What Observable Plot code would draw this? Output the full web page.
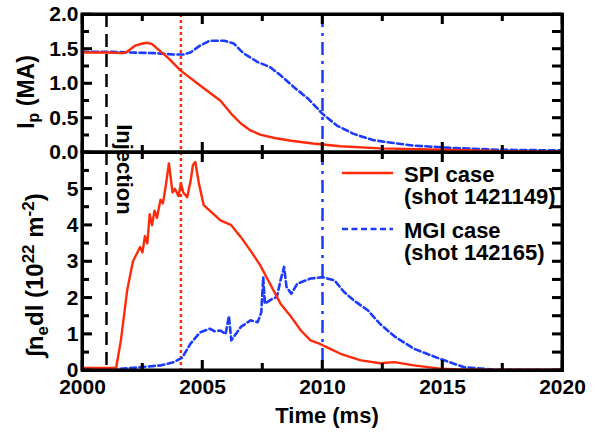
<!DOCTYPE html>
<html><head><meta charset="utf-8">
<script src="https://cdn.jsdelivr.net/npm/d3@7"></script>
<script src="https://cdn.jsdelivr.net/npm/@observablehq/plot@0.6"></script>
<style>
body{margin:0;background:#fff;}
#chart{position:relative;width:599px;height:434px;}
#chart svg{position:absolute;left:0;overflow:visible;background:transparent;}
</style></head><body><div id="chart"></div>
<script>
// ---- data ----
const spiIpTime = [2000, 2001, 2001.7, 2001.9, 2002.2, 2002.5, 2002.7, 2002.9, 2003.2, 2003.6, 2004.08, 2004.9, 2005.75, 2006.2, 2006.6, 2007.0, 2007.4, 2008.0, 2008.7, 2009.6, 2010.75, 2012.4, 2015, 2017.5, 2020];
const spiIp     = [1.45, 1.45, 1.44, 1.47, 1.55, 1.58, 1.59, 1.57, 1.48, 1.36, 1.19, 0.97, 0.75, 0.56, 0.42, 0.32, 0.26, 0.21, 0.17, 0.13, 0.09, 0.06, 0.04, 0.02, 0.01];
const mgiIpTime = [2000, 2001, 2002, 2003, 2003.8, 2004.2, 2004.5, 2004.9, 2005.3, 2005.9, 2006.3, 2006.7, 2007.3, 2007.8, 2008.25, 2008.8, 2009.4, 2010, 2010.6, 2011.3, 2012.1, 2013, 2013.8, 2015.2, 2017.3, 2020];
const mgiIp     = [1.46, 1.46, 1.45, 1.44, 1.42, 1.42, 1.45, 1.55, 1.62, 1.62, 1.58, 1.44, 1.31, 1.24, 1.12, 0.95, 0.78, 0.56, 0.39, 0.27, 0.18, 0.135, 0.10, 0.07, 0.04, 0.03];
const spiNeTime = [2000, 2001.4, 2001.6, 2001.86, 2002.1, 2002.25, 2002.4, 2002.5, 2002.6, 2002.7, 2002.8, 2002.9, 2003.0, 2003.1, 2003.25, 2003.35, 2003.45, 2003.6, 2003.75, 2003.85, 2004.0, 2004.1, 2004.2, 2004.36, 2004.5, 2004.6, 2004.7, 2004.85, 2005.05, 2005.3, 2005.75, 2006.2, 2006.6, 2007.0, 2007.4, 2007.8, 2008.25, 2008.7, 2009.1, 2009.5, 2009.9, 2010.3, 2010.75, 2011.6, 2012.4, 2013, 2013.8, 2014.9, 2016, 2020];
const spiNe     = [0.07, 0.07, 0.83, 2.2, 3.0, 3.2, 3.4, 3.25, 3.7, 3.5, 4.3, 4.0, 4.4, 4.2, 4.7, 4.6, 5.0, 5.7, 4.9, 5.0, 4.8, 5.15, 4.9, 4.77, 5.2, 5.65, 5.74, 5.15, 4.55, 4.4, 4.13, 4.0, 3.67, 3.3, 2.9, 2.4, 1.84, 1.47, 1.1, 0.83, 0.73, 0.6, 0.46, 0.28, 0.2, 0.23, 0.14, 0.05, 0.02, 0.02];
const mgiNeTime = [2000, 2001.5, 2002.4, 2003.25, 2003.8, 2004.15, 2004.5, 2004.9, 2005.3, 2005.5, 2005.75, 2005.96, 2006.1, 2006.2, 2006.6, 2007.0, 2007.3, 2007.45, 2007.53, 2007.6, 2007.9, 2008.1, 2008.25, 2008.4, 2008.5, 2008.7, 2008.95, 2009.5, 2010, 2010.5, 2010.9, 2011.3, 2011.9, 2012.4, 2013, 2013.8, 2014.9, 2015.9, 2017.3, 2020];
const mgiNe     = [0.03, 0.04, 0.09, 0.14, 0.23, 0.35, 0.74, 1.05, 1.15, 1.08, 1.1, 1.0, 1.5, 0.83, 1.2, 1.38, 1.33, 1.6, 2.57, 1.84, 1.97, 2.02, 2.48, 2.85, 2.3, 2.11, 2.39, 2.53, 2.57, 2.48, 2.16, 1.93, 1.65, 1.28, 0.94, 0.6, 0.32, 0.09, 0.02, 0.02];
const eventTimes = [2001, 2004.1, 2010];   // injection, SPI marker, MGI marker
const xTickLabels = [2000, 2005, 2010, 2015, 2020];
const xTicksAll = [2000, 2002.5, 2005, 2007.5, 2010, 2012.5, 2015, 2017.5, 2020];
const ipTickLabels = [0, 0.5, 1.0, 1.5, 2.0];
const ipTicksAll = [0, 0.25, 0.5, 0.75, 1.0, 1.25, 1.5, 1.75, 2.0];
const neTickLabels = [0, 1, 2, 3, 4, 5];
const neTicksAll = [0, 0.5, 1, 1.5, 2, 2.5, 3, 3.5, 4, 4.5, 5, 5.5, 6];
const legendLabels = [["SPI case", "(shot 1421149)"], ["MGI case", "(shot 142165)"]];

// ---- styling ----
const RED = "#ff2a0a", BLUE = "#1b3cff";
const FONT = "'Liberation Sans', Arial, Helvetica, sans-serif";
const W = 599, ML = 82, MR = 37, PW = W - ML - MR;
const X0 = 2000, X1 = 2020;
const eventStyles = [
  {stroke: "black", strokeDasharray: "13,7", strokeWidth: 2.5},
  {stroke: RED, strokeDasharray: "3,3", strokeWidth: 2.5},
  {stroke: BLUE, strokeDasharray: "13,6,3,6", strokeWidth: 2.5}
];
const pts = (t, v) => t.map((d, i) => ({t: d, v: v[i]}));

// inward tick marks on all four sides (lengths given in pixels, converted through the scale spans)
function tickMarks(yAll, yMajor, xAll, xMajor, yMax, PH) {
  const yMin = yAll.filter(d => !yMajor.includes(d));
  const xMin = xAll.filter(d => !xMajor.includes(d));
  const px = p => p * (X1 - X0) / PW, py = p => p * yMax / PH;
  const s = {stroke: "black", strokeWidth: 2.5};
  return [
    Plot.ruleY(yMajor, {y: d => d, x1: X0, x2: X0 + px(10), ...s}),
    Plot.ruleY(yMin, {y: d => d, x1: X0, x2: X0 + px(7), ...s}),
    Plot.ruleY(yAll, {y: d => d, x1: X1 - px(10), x2: X1, ...s}),
    Plot.ruleX(xMajor, {x: d => d, y1: 0, y2: py(10), ...s}),
    Plot.ruleX(xMin, {x: d => d, y1: 0, y2: py(7), ...s}),
    Plot.ruleX(xMajor, {x: d => d, y1: yMax - py(10), y2: yMax, ...s}),
    Plot.ruleX(xMin, {x: d => d, y1: yMax - py(7), y2: yMax, ...s})
  ];
}
const eventRules = () => eventTimes.map((t, i) => Plot.ruleX([t], eventStyles[i]));

const commonStyle = {fontFamily: FONT, fontSize: "21px", fontWeight: "bold", background: "transparent", overflow: "visible", color: "black"};

// ---- top panel: plasma current ----
const topH = 152, topMT = 14;
const topPlot = Plot.plot({
  width: W, height: topH, marginTop: topMT, marginBottom: 0, marginLeft: ML, marginRight: MR,
  style: commonStyle,
  x: {domain: [X0, X1], axis: null},
  y: {domain: [0, 2], axis: null},
  marks: [
    ...eventRules(),
    Plot.line(pts(mgiIpTime, mgiIp), {x: "t", y: "v", stroke: BLUE, strokeWidth: 2.6, strokeDasharray: "6,3.5"}),
    Plot.line(pts(spiIpTime, spiIp), {x: "t", y: "v", stroke: RED, strokeWidth: 2.4}),
    Plot.frame({stroke: "black", strokeWidth: 3}),
    ...tickMarks(ipTicksAll, ipTickLabels, xTicksAll, xTickLabels, 2, topH - topMT),
    Plot.axisY(ipTickLabels, {tickSize: 0, tickPadding: 4, tickFormat: d3.format(".1f"), label: null}),
    Plot.text(["Injection"], {x: 2001.72, y: 0.41, text: d => d, rotate: 90, textAnchor: "start", fontSize: 22, fontWeight: "bold"})
  ]
});

// ---- bottom panel: line-integrated density ----
const botH = 282, botMB = 64;
const botPlot = Plot.plot({
  width: W, height: botH, marginTop: 0, marginBottom: botMB, marginLeft: ML, marginRight: MR,
  style: commonStyle,
  x: {domain: [X0, X1], axis: null},
  y: {domain: [0, 6], axis: null},
  marks: [
    ...eventRules(),
    Plot.line(pts(mgiNeTime, mgiNe), {x: "t", y: "v", stroke: BLUE, strokeWidth: 2.6, strokeDasharray: "6,3.5"}),
    Plot.line(pts(spiNeTime, spiNe), {x: "t", y: "v", stroke: RED, strokeWidth: 2.4}),
    Plot.frame({stroke: "black", strokeWidth: 3}),
    ...tickMarks(neTicksAll, neTickLabels, xTicksAll, xTickLabels, 6, botH - botMB),
    Plot.axisY(neTickLabels, {tickSize: 0, tickPadding: 4, tickFormat: d3.format("d"), label: null}),
    Plot.axisX(xTickLabels, {tickSize: 0, tickPadding: 9, tickFormat: d3.format("d"), label: null})
  ]
});

const chart = document.getElementById("chart");
botPlot.style.top = topH + "px";
topPlot.style.top = "0px";
chart.append(botPlot, topPlot);

// ---- titles (with sub/superscripts) ----
const tsel = d3.select(topPlot);
const t1 = tsel.append("text").attr("transform", "translate(34,92) rotate(-90)")
  .attr("text-anchor", "middle").attr("font-family", FONT).attr("font-weight", "bold").attr("font-size", 23).attr("fill", "black");
t1.append("tspan").text("I");
t1.append("tspan").attr("font-size", 16).attr("dy", 5).text("p");
t1.append("tspan").attr("dy", -5).text(" (MA)");

const bsel = d3.select(botPlot);
const t2 = bsel.append("text").attr("transform", `translate(43,${275 - topH}) rotate(-90)`)
  .attr("text-anchor", "middle").attr("font-family", FONT).attr("font-weight", "bold").attr("font-size", 24).attr("fill", "black");
t2.append("tspan").text("\u222Bn");
t2.append("tspan").attr("font-size", 17).attr("dy", 5).text("e");
t2.append("tspan").attr("dy", -5).text("dl (10");
t2.append("tspan").attr("font-size", 17).attr("dy", -9).text("22");
t2.append("tspan").attr("dy", 9).text(" m");
t2.append("tspan").attr("font-size", 17).attr("dy", -9).text("-2");
t2.append("tspan").attr("dy", 9).text(")");

bsel.append("text").attr("x", 327).attr("y", 423 - topH).attr("text-anchor", "middle")
  .attr("font-family", FONT).attr("font-weight", "bold").attr("font-size", 22).attr("fill", "black").text("Time (ms)");

// ---- legend ----
const legColors = [RED, BLUE], legDash = [null, "6,3.5"], legY = [173, 229], legBase = [182, 238];
legendLabels.forEach((lab, i) => {
  bsel.append("line").attr("x1", 342).attr("x2", 393).attr("y1", legY[i] - topH).attr("y2", legY[i] - topH)
    .attr("stroke", legColors[i]).attr("stroke-width", i ? 2.6 : 2.4).attr("stroke-dasharray", legDash[i]);
  lab.forEach((s, j) => {
    bsel.append("text").attr("x", 404).attr("y", legBase[i] + 22 * j - topH).attr("text-anchor", "start")
      .attr("font-family", FONT).attr("font-weight", "bold").attr("font-size", 22).attr("fill", "black").text(s);
  });
});

// ---- reinforce box and inward ticks through each plot's own scales ----
function overlayTicks(svg, yAll, yMajor, yMax) {
  try {
    const sx = svg.scale("x"), sy = svg.scale("y");
    const g = d3.select(svg).append("g").attr("stroke", "black").attr("stroke-width", 2.5).attr("fill", "none");
    const xl = sx.apply(X0), xr = sx.apply(X1), yb = sy.apply(0), yt = sy.apply(yMax);
    g.append("rect").attr("x", xl).attr("y", yt).attr("width", xr - xl).attr("height", yb - yt).attr("stroke-width", 3);
    yAll.forEach(v => {
      const L = yMajor.includes(v) ? 10 : 7, y = sy.apply(v);
      g.append("line").attr("x1", xl).attr("x2", xl + L).attr("y1", y).attr("y2", y);
      g.append("line").attr("x1", xr - 10).attr("x2", xr).attr("y1", y).attr("y2", y);
    });
    xTicksAll.forEach(v => {
      const L = xTickLabels.includes(v) ? 10 : 7, x = sx.apply(v);
      g.append("line").attr("x1", x).attr("x2", x).attr("y1", yt).attr("y2", yt + L);
      g.append("line").attr("x1", x).attr("x2", x).attr("y1", yb - L).attr("y2", yb);
    });
  } catch (e) { /* Plot marks already drew these */ }
}
overlayTicks(topPlot, ipTicksAll, ipTickLabels, 2);
overlayTicks(botPlot, neTicksAll, neTickLabels, 6);
</script></body></html>
